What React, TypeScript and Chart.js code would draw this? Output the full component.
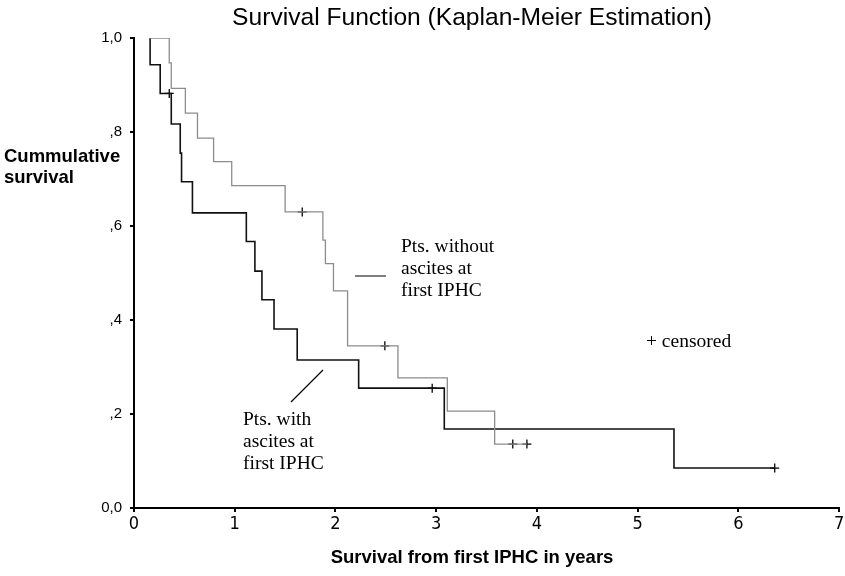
import React, { useEffect, useRef } from "react";
import { Chart, registerables } from "chart.js";

Chart.register(...registerables);

// Kaplan-Meier step data (time in years, cumulative survival)
const withAscitesTimes = [0.16, 0.16, 0.26, 0.37, 0.459, 0.472, 0.58, 1.115, 1.2, 1.27, 1.39, 1.62, 2.23, 3.08, 5.36, 6.36];
const withAscitesSurv = [1.0, 0.943, 0.882, 0.817, 0.755, 0.694, 0.628, 0.567, 0.504, 0.443, 0.381, 0.315, 0.255, 0.168, 0.085, 0.085];

const withoutAscitesTimes = [0.16, 0.35, 0.37, 0.51, 0.63, 0.79, 0.97, 1.5, 1.875, 1.9, 1.98, 2.12, 2.62, 3.11, 3.58, 3.9];
const withoutAscitesSurv = [1.0, 0.947, 0.893, 0.84, 0.787, 0.737, 0.686, 0.63, 0.57, 0.52, 0.462, 0.345, 0.277, 0.206, 0.136, 0.136];

const censoredTimes = [0.35, 2.96, 6.36, 1.67, 2.49, 3.76, 3.9];
const censoredSurv = [0.882, 0.255, 0.085, 0.63, 0.345, 0.136, 0.136];

const xTickLabels = ["0", "1", "2", "3", "4", "5", "6", "7"];
const yTickLabels = ["0,0", ",2", ",4", ",6", ",8", "1,0"];

const titleText = "Survival Function (Kaplan-Meier Estimation)";
const yTitleLines = ["Cummulative", "survival"];
const xTitleText = "Survival from first IPHC in years";
const withoutLabel = ["Pts. without", "ascites at", "first IPHC"];
const withLabel = ["Pts. with", "ascites at", "first IPHC"];
const censoredLabel = "+ censored";

const annotationPlugin = {
  id: "kmAnnotations",
  afterDraw(chart: any) {
    const ctx = chart.ctx;
    ctx.save();
    ctx.fillStyle = "#000";
    ctx.textBaseline = "middle";

    // title
    ctx.font = '24.6px "Liberation Sans", Arial, sans-serif';
    ctx.textAlign = "center";
    ctx.fillText(titleText, 472, 18);

    // y title
    ctx.font = 'bold 18.5px "Liberation Sans", Arial, sans-serif';
    ctx.textAlign = "left";
    ctx.fillText(yTitleLines[0], 4, 157);
    ctx.fillText(yTitleLines[1], 4, 178);

    // x title
    ctx.textAlign = "center";
    ctx.fillText(xTitleText, 472, 558);

    // serif annotations
    ctx.font = '19.5px "Liberation Serif", "Times New Roman", serif';
    ctx.textAlign = "left";
    withoutLabel.forEach((t, i) => ctx.fillText(t, 401, 247 + i * 22));
    withLabel.forEach((t, i) => ctx.fillText(t, 243, 420 + i * 22));
    ctx.fillText(censoredLabel, 646, 342);

    // leader lines
    ctx.strokeStyle = "#000";
    ctx.lineWidth = 1.2;
    ctx.beginPath();
    ctx.moveTo(355, 276);
    ctx.lineTo(386, 276);
    ctx.moveTo(323, 370);
    ctx.lineTo(291, 402);
    ctx.stroke();
    ctx.restore();
  },
};

export default function App() {
  const canvasRef = useRef<HTMLCanvasElement | null>(null);

  useEffect(() => {
    document.body.style.margin = "0";
    const canvas = canvasRef.current;
    if (!canvas) return;

    const toPts = (xs: number[], ys: number[]) => xs.map((x, i) => ({ x, y: ys[i] }));

    const chart = new Chart(canvas, {
      type: "line",
      data: {
        datasets: [
          {
            label: "Pts. without ascites at first IPHC",
            data: toPts(withoutAscitesTimes, withoutAscitesSurv),
            stepped: "before",
            borderColor: "#8c8c8c",
            borderWidth: 1.3,
            pointRadius: 0,
            fill: false,
          },
          {
            label: "Pts. with ascites at first IPHC",
            data: toPts(withAscitesTimes, withAscitesSurv),
            stepped: "before",
            borderColor: "#111",
            borderWidth: 1.6,
            pointRadius: 0,
            fill: false,
          },
          {
            label: "censored",
            data: toPts(censoredTimes, censoredSurv),
            showLine: false,
            pointStyle: "cross",
            pointRadius: 4.5,
            pointBorderWidth: 1.3,
            pointBorderColor: "#000",
            borderColor: "#000",
          },
        ],
      },
      options: {
        animation: false,
        responsive: false,
        layout: { padding: { top: 38, right: 0, left: 0, bottom: 0 } },
        plugins: {
          legend: { display: false },
          title: { display: false },
          tooltip: { enabled: false },
        },
        scales: {
          x: {
            type: "linear",
            min: 0,
            max: 7,
            afterFit(scale: any) {
              scale.height = 68;
              scale.paddingRight = 4;
            },
            ticks: {
              stepSize: 1,
              color: "#000",
              padding: 2,
              font: { family: '"Liberation Sans Narrow", "DejaVu Sans Condensed", "Liberation Sans", sans-serif', size: 18 },
              callback: (_v: any, i: number) => xTickLabels[i],
              maxRotation: 0,
            },
            grid: {
              display: true,
              drawOnChartArea: false,
              drawTicks: true,
              tickLength: 4,
              color: "#000",
              lineWidth: 2,
            },
            border: { display: true, color: "#000", width: 2 },
          },
          y: {
            type: "linear",
            min: 0,
            max: 1,
            afterFit(scale: any) {
              scale.width = 134;
            },
            ticks: {
              stepSize: 0.2,
              color: "#000",
              padding: 8,
              font: { family: '"Liberation Sans", Arial, sans-serif', size: 15 },
              callback: (_v: any, i: number) => yTickLabels[i],
            },
            grid: {
              display: true,
              drawOnChartArea: false,
              drawTicks: true,
              tickLength: 4,
              color: "#000",
              lineWidth: 2,
            },
            border: { display: true, color: "#000", width: 2 },
          },
        },
      },
      plugins: [annotationPlugin],
    });

    return () => chart.destroy();
  }, []);

  return (
    <div style={{ position: "absolute", left: 0, top: 0, width: 845, height: 576, background: "#fff" }}>
      <canvas ref={canvasRef} width={845} height={576} />
    </div>
  );
}
